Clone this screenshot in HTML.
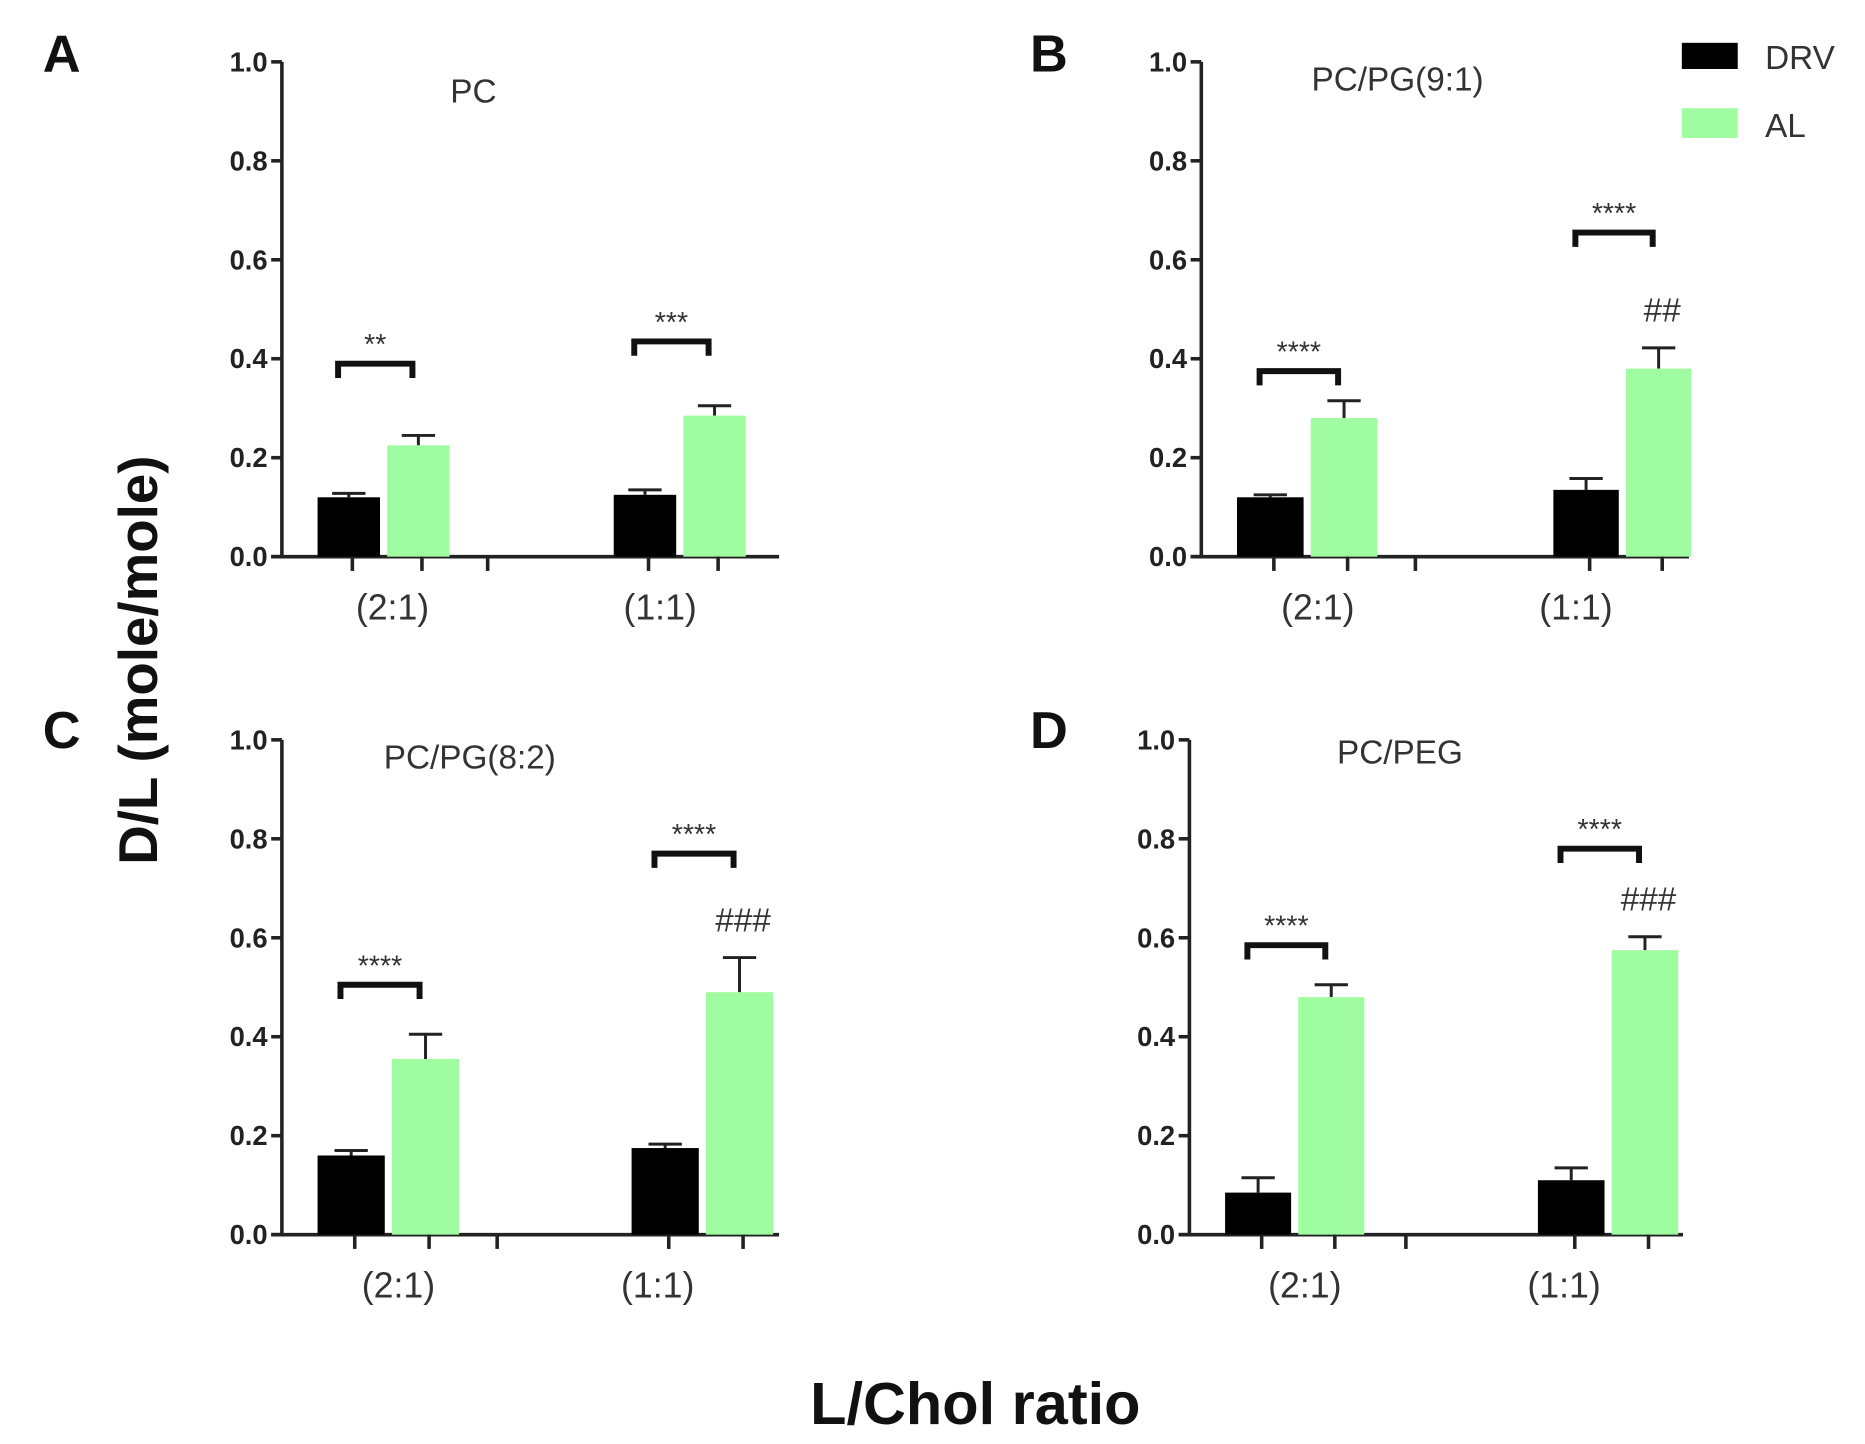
<!DOCTYPE html>
<html><head><meta charset="utf-8"><style>
html,body{margin:0;padding:0;background:#fff}
svg{display:block}
text{font-family:"Liberation Sans",Arial,sans-serif}
</style></head><body>
<svg id="fig" width="1865" height="1444" viewBox="0 0 1568 1214" preserveAspectRatio="none" xmlns="http://www.w3.org/2000/svg">
<g>
<rect x="1414" y="36" width="47" height="22" fill="#000"/>
<text x="1484" y="58" font-size="28" fill="#333">DRV</text>
<rect x="1414" y="91" width="47" height="25" fill="#a0fca0"/>
<text x="1484" y="115" font-size="28" fill="#333">AL</text>
</g>
<text transform="translate(132,555) rotate(-90)" text-anchor="middle" font-size="46" font-weight="bold" fill="#111">D/L (mole/mole)</text>
<text x="820" y="1197" text-anchor="middle" font-size="50" font-weight="bold" fill="#111">L/Chol ratio</text>
</svg>
<script>
const categories = ["(2:1)", "(1:1)"];
const yTicks = [0.0, 0.2, 0.4, 0.6, 0.8, 1.0];
const panelNames = ["A", "B", "C", "D"];
const panelTitles = ["PC", "PC/PG(9:1)", "PC/PG(8:2)", "PC/PEG"];
const drvValues = [[0.12, 0.125], [0.12, 0.135], [0.16, 0.175], [0.085, 0.11]];
const drvErrors = [[0.008, 0.01], [0.005, 0.023], [0.01, 0.008], [0.03, 0.025]];
const alValues = [[0.225, 0.285], [0.28, 0.38], [0.355, 0.49], [0.48, 0.575]];
const alErrors = [[0.02, 0.02], [0.035, 0.042], [0.05, 0.07], [0.025, 0.027]];
const sigLevels = [[0.39, 0.435], [0.375, 0.655], [0.505, 0.77], [0.585, 0.78]];
const sigLabels = [["**", "***"], ["****", "****"], ["****", "****"], ["****", "****"]];
const hashLabels = [["", ""], ["", "##"], ["", "###"], ["", "###"]];

const layout = [
 {ax:237, top:52, bot:468, xEnd:655, g:[[267,378],[516,627]], lab:[330,555], sep:410, lx:36, ly:60, tx:398, ty:86},
 {ax:1010, top:52, bot:468, xEnd:1420, g:[[1040,1158],[1306,1422]], lab:[1108,1325], sep:1190, lx:866, ly:60, tx:1175, ty:76},
 {ax:237, top:622, bot:1038, xEnd:655, g:[[267,386],[531,650]], lab:[335,553], sep:418, lx:36, ly:629, tx:395, ty:646},
 {ax:1000, top:622, bot:1038, xEnd:1415, g:[[1030,1147],[1293,1411]], lab:[1097,1315], sep:1182, lx:866, ly:629, tx:1177, ty:642}
];
const svg = document.getElementById('fig');
const NS = 'http://www.w3.org/2000/svg';
function mk(tag, attrs, parent){const e=document.createElementNS(NS,tag);for(const k in attrs)e.setAttribute(k,attrs[k]);parent.appendChild(e);return e;}

layout.forEach((L, p) => {
 const g = mk('g', {}, svg);
 
 
 const y = v => L.bot - v * (L.bot - L.top);
 const lt = mk('text', {x:L.lx, y:L.ly, 'font-size':44, 'font-weight':'bold', fill:'#111'}, g);
 lt.textContent = panelNames[p];
 
 
 const tt = mk('text', {x:L.tx, y:L.ty, 'text-anchor':'middle', 'font-size':28, fill:'#333'}, g);
 tt.textContent = panelTitles[p];
 
 
 const ya = mk('line', {x1:L.ax, y1:L.top, x2:L.ax, y2:L.bot, stroke:'#222', 'stroke-width':3}, g);
 
 
 yTicks.forEach(t => {
  mk('line', {x1:L.ax-9, y1:y(t), x2:L.ax, y2:y(t), stroke:'#222', 'stroke-width':3}, g);
  const tl = mk('text', {x:L.ax-12, y:y(t)+8, 'text-anchor':'end', 'font-size':23, 'font-weight':'bold', fill:'#222'}, g);
  tl.textContent = t.toFixed(1);
  
  
 });
 const xa = mk('line', {x1:L.ax-9, y1:L.bot, x2:L.xEnd, y2:L.bot, stroke:'#222', 'stroke-width':3}, g);
 
 
 mk('line', {x1:L.sep, y1:L.bot, x2:L.sep, y2:L.bot+12, stroke:'#222', 'stroke-width':3}, g);
 categories.forEach((c, i) => {
  const [x0, x1] = L.g[i];
  const bw = (x1 - x0 - 6) / 2;
  const bx = [x0, x0 + bw + 6];
  const vals = [drvValues[p][i], alValues[p][i]];
  const errs = [drvErrors[p][i], alErrors[p][i]];
  const cols = ['#000', '#a0fca0'];
  vals.forEach((v, s) => {
   const cx = bx[s] + bw/2;
   const el = mk('line', {x1:cx, y1:y(v), x2:cx, y2:y(v+errs[s]), stroke:'#222', 'stroke-width':2.5}, g);
   
   
   mk('line', {x1:cx-14, y1:y(v+errs[s]), x2:cx+14, y2:y(v+errs[s]), stroke:'#222', 'stroke-width':2.5}, g);
   const r = mk('rect', {x:bx[s], y:y(v), width:bw, height:L.bot - y(v), fill:cols[s]}, g);
   
   
   mk('line', {x1:cx+3, y1:L.bot, x2:cx+3, y2:L.bot+12, stroke:'#222', 'stroke-width':3}, g);
  });
  const cl = mk('text', {x:L.lab[i], y:L.bot+53, 'text-anchor':'middle', 'font-size':30, fill:'#333'}, g);
  cl.textContent = c;
  
  
  const c1 = bx[0] + bw/2 + 3, c2 = bx[1] + bw/2 + 3;
  const sy = y(sigLevels[p][i]);
  const br = mk('path', {d:`M${c1-12},${sy+12} V${sy} H${c2-8} V${sy+12}`, fill:'none', stroke:'#111', 'stroke-width':5}, g);
  
  
  const st = mk('text', {x:(c1+c2)/2-10, y:sy-8, 'text-anchor':'middle', 'font-size':24, fill:'#333'}, g);
  st.textContent = sigLabels[p][i];
  
  
  if (hashLabels[p][i]) {
   const ht = mk('text', {x:bx[1]+bw/2+3, y:y(alValues[p][i]+alErrors[p][i])-22, 'text-anchor':'middle', 'font-size':28, fill:'#333'}, g);
   ht.textContent = hashLabels[p][i];
   
   
  }
 });
});
</script>
</body></html>
